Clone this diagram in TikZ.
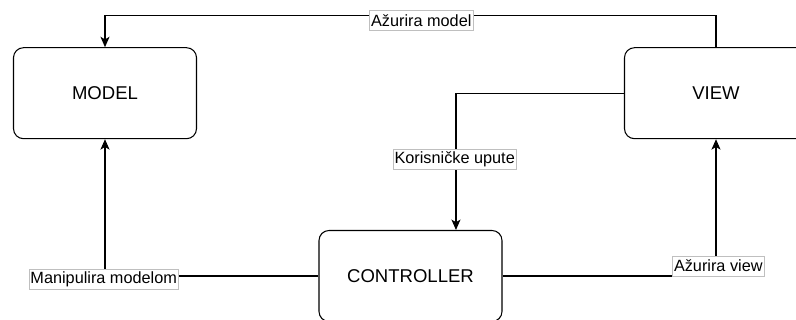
\documentclass[tikz,border=0pt]{standalone}
\usepackage{fontspec}
\setmainfont{Liberation Sans}
\usetikzlibrary{arrows.meta}
\begin{document}
\begin{tikzpicture}[x=0.75pt,y=-0.75pt,
  box/.style={draw=black, line width=0.8pt, rounded corners=7.5pt, fill=white,
    minimum width=137.25pt, minimum height=68.25pt, inner sep=0pt,
    font=\fontsize{13.9}{16}\selectfont},
  lbl/.style={draw=black!25, line width=0.4pt, fill=white, inner xsep=1.2pt, inner ysep=0pt,
    minimum height=15pt, font=\fontsize{12.2}{14}\selectfont},
  arr/.style={draw=black, line width=0.8pt, -{Stealth[length=7.8pt,width=6.8pt,inset=2pt]}}]
\useasboundingbox (0,0) rectangle (796,320);
\begin{scope}
\clip (0,0) rectangle (796,320);
\node[box] (model) at (105,93.2) {MODEL};
\node[box] (view) at (716,93.2) {VIEW};
\node[box] (ctrl) at (410.5,276) {CONTROLLER};
\coordinate (ctop) at ([xshift=34.1pt]ctrl.north);
\draw[arr] (view.north) -- ++(0,-31.3) -| (model.north);
\draw[arr] (view.west) -| (ctop);
\draw[arr] (ctrl.west) -| (model.south);
\draw[arr] (ctrl.east) -| (view.south);
\node[lbl] (l1) at (421.3,20.3) {Ažurira model};
\node[lbl] (l2) at (454.7,159.3) {Korisničke upute};
\node[lbl] (l3) at (103.7,279) {Manipulira modelom};
\node[lbl] (l4) at (718.3,266) {Ažurira view};
\end{scope}
\end{tikzpicture}
\end{document}
